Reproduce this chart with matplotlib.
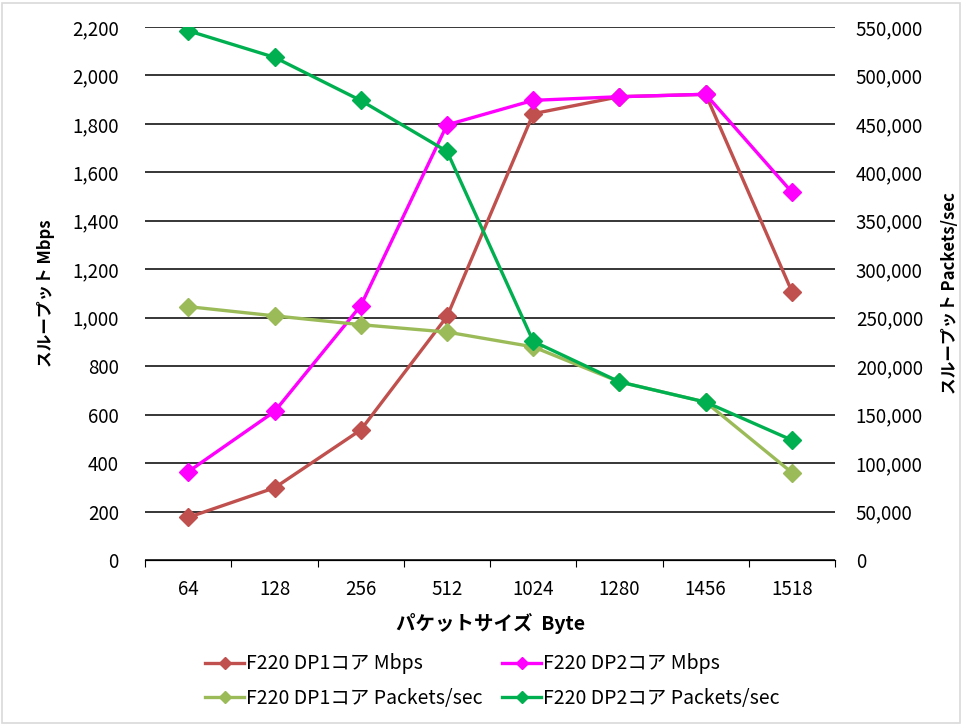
import matplotlib
matplotlib.use("Agg")
import matplotlib.pyplot as plt
from matplotlib.ticker import FuncFormatter, FixedLocator, NullFormatter

plt.rcParams["font.family"] = ["Noto Sans CJK JP", "DejaVu Sans"]

# ── Data ─────────────────────────────────────────────────────────────────────
sizes = ["64", "128", "256", "512", "1024", "1280", "1456", "1518"]
dp1_mbps = [176, 298, 537, 1005, 1842, 1912, 1922, 1108]
dp2_mbps = [365, 613, 1050, 1796, 1897, 1912, 1922, 1518]
dp1_pps = [261400, 251900, 242800, 235200, 219900, 183800, 162900, 90200]
dp2_pps = [546000, 518600, 474100, 421600, 225600, 183800, 162900, 123700]

C_RED = "#C0504D"
C_MAG = "#FF00FF"
C_LGREEN = "#9BBB59"
C_DGREEN = "#00B050"

fig = plt.figure(figsize=(9.62, 7.24), dpi=100)
ax = fig.add_axes([0.151, 0.2265, 0.717, 0.7363])
ax2 = ax.twinx()

x = list(range(len(sizes)))
style = dict(marker="D", markersize=9.5, linewidth=2.4)

l1, = ax.plot(x, dp1_mbps, color=C_RED, label="F220 DP1コア Mbps", **style)
l2, = ax.plot(x, dp2_mbps, color=C_MAG, label="F220 DP2コア Mbps", **style)
l3, = ax2.plot(x, dp1_pps, color=C_LGREEN, label="F220 DP1コア Packets/sec", **style)
l4, = ax2.plot(x, dp2_pps, color=C_DGREEN, label="F220 DP2コア Packets/sec", **style)

ax.set_xlim(-0.5, len(sizes) - 0.5)
ax.set_ylim(0, 2200)
ax2.set_ylim(0, 550000)
ax.set_yticks(range(0, 2201, 200))
ax2.set_yticks(range(0, 550001, 50000))
ax.yaxis.set_major_formatter(FuncFormatter(lambda v, p: f"{int(v):,}"))
ax2.yaxis.set_major_formatter(FuncFormatter(lambda v, p: f"{int(v):,}"))

ax.grid(axis="y", color="black", linewidth=1.1)
ax.set_axisbelow(True)

# category ticks between labels, labels centred
ax.xaxis.set_major_locator(FixedLocator([i - 0.5 for i in range(len(sizes) + 1)]))
ax.xaxis.set_major_formatter(NullFormatter())
ax.xaxis.set_minor_locator(FixedLocator(x))
ax.set_xticklabels(sizes, minor=True)
ax.tick_params(axis="x", which="major", length=5, color="black", direction="out")
ax.tick_params(axis="x", which="minor", length=0, pad=14, labelsize=13.5)
ax.tick_params(axis="y", length=0, pad=19, labelsize=13.5)
ax2.tick_params(axis="y", length=0, pad=15, labelsize=13.5)

for a in (ax, ax2):
    for s in ("top", "left", "right"):
        a.spines[s].set_visible(False)
    a.spines["bottom"].set_color("black")

ax.set_xlabel("パケットサイズ  Byte", fontsize=14, fontweight="bold", labelpad=9)
ax.set_ylabel("スループット Mbps", fontsize=12, fontweight="bold", labelpad=12)
ax2.set_ylabel("スループット Packets/sec", fontsize=12, fontweight="bold", labelpad=13)

fig.legend([l1, l3, l2, l4], [l.get_label() for l in (l1, l3, l2, l4)],
           ncol=2, loc="center", bbox_to_anchor=(0.512, 0.059), frameon=False,
           fontsize=14, handlelength=2.0, columnspacing=1.0, labelspacing=0.7,
           handletextpad=0.1, markerscale=0.6)

# light chart-area border
fig.patches.append(plt.Rectangle((0.002, 0.002), 0.996, 0.994, transform=fig.transFigure,
                                 fill=False, edgecolor="#D9D9D9", linewidth=1.2))

fig.savefig("out.png", dpi=100)
